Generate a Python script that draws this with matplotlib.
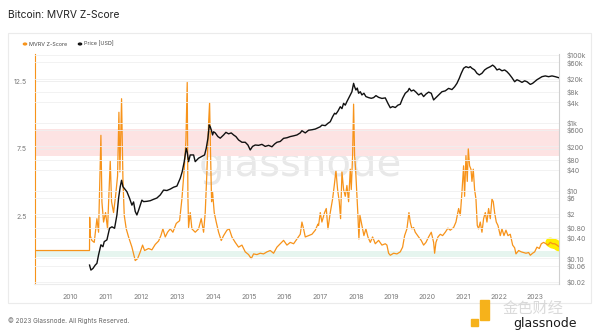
import matplotlib
matplotlib.use("Agg")
import matplotlib.pyplot as plt
from matplotlib.patches import Rectangle
from matplotlib.ticker import FixedLocator, NullLocator

plt.rcParams['font.family'] = ['Inter', 'Noto Sans CJK SC', 'DejaVu Sans']

# MVRV Z-Score (decimal year, value)
z_years = [2009.01, 2010.54, 2010.545, 2010.560, 2010.607, 2010.672, 2010.747, 2010.793, 2010.859,
           2010.887, 2010.933, 2010.989, 2011.045, 2011.120, 2011.157, 2011.213, 2011.269,
           2011.325, 2011.363, 2011.391, 2011.437, 2011.475, 2011.512, 2011.568, 2011.633,
           2011.727, 2011.820, 2011.885, 2011.960, 2012.025, 2012.081, 2012.193, 2012.286,
           2012.380, 2012.473, 2012.538, 2012.594, 2012.660, 2012.725, 2012.800, 2012.874,
           2012.968, 2013.061, 2013.126, 2013.191, 2013.238, 2013.275, 2013.294, 2013.313,
           2013.359, 2013.406, 2013.499, 2013.593, 2013.667, 2013.733, 2013.779, 2013.826,
           2013.873, 2013.901, 2013.929, 2013.957, 2013.985, 2014.031, 2014.087, 2014.153,
           2014.227, 2014.293, 2014.386, 2014.451, 2014.526, 2014.619, 2014.712, 2014.806,
           2014.899, 2014.992, 2015.067, 2015.132, 2015.226, 2015.319, 2015.412, 2015.506,
           2015.599, 2015.692, 2015.786, 2015.879, 2015.972, 2016.066, 2016.159, 2016.253,
           2016.346, 2016.439, 2016.486, 2016.532, 2016.579, 2016.672, 2016.766, 2016.859,
           2016.934, 2016.952, 2016.999, 2017.045, 2017.120, 2017.167, 2017.214, 2017.279,
           2017.344, 2017.391, 2017.438, 2017.484, 2017.531, 2017.568, 2017.606, 2017.652,
           2017.699, 2017.745, 2017.792, 2017.839, 2017.867, 2017.904, 2017.932, 2017.960,
           2017.988, 2018.026, 2018.053, 2018.081, 2018.109, 2018.165, 2018.221, 2018.277,
           2018.333, 2018.399, 2018.464, 2018.539, 2018.632, 2018.725, 2018.819, 2018.865,
           2018.912, 2018.959, 2019.052, 2019.145, 2019.238, 2019.304, 2019.360, 2019.425,
           2019.481, 2019.518, 2019.565, 2019.612, 2019.658, 2019.752, 2019.826, 2019.892,
           2019.957, 2020.032, 2020.106, 2020.172, 2020.200, 2020.237, 2020.293, 2020.358,
           2020.424, 2020.498, 2020.573, 2020.638, 2020.732, 2020.797, 2020.872, 2020.918,
           2020.965, 2021.011, 2021.039, 2021.077, 2021.114, 2021.142, 2021.179, 2021.217,
           2021.245, 2021.282, 2021.319, 2021.357, 2021.394, 2021.431, 2021.478, 2021.525,
           2021.571, 2021.618, 2021.665, 2021.711, 2021.758, 2021.805, 2021.842, 2021.879,
           2021.926, 2021.973, 2022.038, 2022.085, 2022.141, 2022.197, 2022.253, 2022.318,
           2022.384, 2022.440, 2022.477, 2022.552, 2022.626, 2022.691, 2022.757, 2022.832,
           2022.878, 2022.943, 2023.000, 2023.064, 2023.130, 2023.186, 2023.251, 2023.317,
           2023.373, 2023.438, 2023.504, 2023.560, 2023.625, 2023.672]
z_values = [0.0, 0.0, 2.45, 1.1, 0.74, 0.6, 2.35, 1.35, 8.5,
            3.6, 2.1, 2.8, 1.6, 6.6, 3.6, 2.8, 4.0,
            5.5, 10.2, 5.8, 11.2, 5.3, 2.6, 1.6, 1.0,
            0.25, -0.74, -0.6, -0.1, 0.4, 0.0, 0.15, 0.05,
            0.45, 0.7, 1.1, 1.6, 1.0, 1.35, 1.6, 1.35,
            2.0, 2.2, 3.8, 6.0, 8.1, 12.4, 4.0, 1.7,
            2.8, 1.6, 1.35, 1.6, 2.35, 1.35, 2.8, 5.8,
            9.4, 10.9, 7.0, 3.6, 4.3, 2.8, 2.1, 1.35,
            0.74, 1.1, 1.5, 1.6, 1.0, 0.6, 0.25, 0.4,
            -0.1, -0.3, -0.6, -0.25, -0.3, -0.2, -0.25, -0.1,
            0.0, -0.2, 0.25, 0.5, 0.75, 0.4, 0.6, 0.5,
            0.85, 1.2, 2.1, 1.6, 1.0, 1.1, 1.2, 1.5,
            1.95, 1.85, 2.8, 2.1, 2.8, 3.1, 1.6, 2.8,
            3.8, 4.8, 5.9, 4.5, 3.6, 2.35, 5.8, 4.5,
            4.0, 4.8, 3.6, 6.0, 4.5, 7.0, 10.8, 7.0,
            6.0, 4.0, 2.6, 0.85, 2.6, 1.85, 1.1, 1.6,
            1.0, 0.6, 1.0, 0.5, 0.75, 0.4, 0.5, 0.4,
            -0.2, -0.35, -0.2, -0.25, -0.1, 0.25, 1.1, 1.6,
            2.8, 2.1, 1.6, 1.7, 1.35, 1.0, 0.74, 0.4,
            0.6, 1.0, 1.35, 0.6, -0.2, 0.6, 1.0, 1.2,
            1.1, 1.35, 1.65, 1.5, 1.7, 2.1, 3.1, 2.6,
            4.3, 6.25, 4.0, 7.0, 5.1, 7.5, 6.25, 6.0,
            5.1, 6.0, 4.5, 3.8, 1.85, 1.6, 2.1, 1.35,
            2.35, 2.8, 2.1, 3.1, 2.35, 3.8, 3.6, 2.8,
            2.1, 1.85, 1.1, 1.6, 1.1, 1.5, 1.1, 1.2,
            0.4, 0.2, -0.25, 0.0, -0.1, -0.15, -0.2, -0.15,
            -0.35, -0.2, -0.1, 0.25, 0.15, 0.5, 0.6, 0.5,
            0.4, 0.6, 0.5, 0.5, 0.4, 0.3]

# BTC price in USD (decimal year, value)
price_years = [2010.541, 2010.579, 2010.635, 2010.700, 2010.747, 2010.793, 2010.859, 2010.915,
               2010.952, 2011.027, 2011.101, 2011.167, 2011.241, 2011.307, 2011.353, 2011.400,
               2011.437, 2011.475, 2011.512, 2011.587, 2011.661, 2011.727, 2011.773, 2011.820,
               2011.866, 2011.913, 2011.960, 2012.006, 2012.053, 2012.146, 2012.240, 2012.333,
               2012.426, 2012.520, 2012.613, 2012.706, 2012.800, 2012.893, 2012.986, 2013.080,
               2013.135, 2013.191, 2013.247, 2013.275, 2013.313, 2013.359, 2013.453, 2013.499,
               2013.593, 2013.761, 2013.807, 2013.854, 2013.891, 2013.919, 2013.947, 2013.985,
               2014.013, 2014.059, 2014.134, 2014.199, 2014.246, 2014.293, 2014.358, 2014.433,
               2014.507, 2014.573, 2014.638, 2014.712, 2014.806, 2014.899, 2014.974, 2015.039,
               2015.104, 2015.179, 2015.272, 2015.366, 2015.459, 2015.552, 2015.646, 2015.720,
               2015.786, 2015.879, 2015.972, 2016.066, 2016.159, 2016.253, 2016.346, 2016.439,
               2016.486, 2016.579, 2016.672, 2016.766, 2016.859, 2016.999, 2017.045, 2017.139,
               2017.214, 2017.279, 2017.344, 2017.400, 2017.438, 2017.494, 2017.559, 2017.606,
               2017.652, 2017.699, 2017.745, 2017.792, 2017.839, 2017.885, 2017.932, 2017.960,
               2017.998, 2018.035, 2018.072, 2018.119, 2018.165, 2018.221, 2018.277, 2018.352,
               2018.427, 2018.492, 2018.558, 2018.632, 2018.725, 2018.819, 2018.894, 2018.959,
               2019.024, 2019.099, 2019.173, 2019.238, 2019.304, 2019.378, 2019.453, 2019.490,
               2019.546, 2019.612, 2019.677, 2019.752, 2019.826, 2019.892, 2019.957, 2020.032,
               2020.106, 2020.172, 2020.312, 2020.405, 2020.498, 2020.591, 2020.685, 2020.760,
               2020.825, 2020.890, 2020.946, 2021.011, 2021.077, 2021.151, 2021.198, 2021.245,
               2021.319, 2021.385, 2021.450, 2021.525, 2021.599, 2021.665, 2021.758, 2021.824,
               2021.879, 2021.945, 2022.010, 2022.085, 2022.160, 2022.225, 2022.290, 2022.365,
               2022.440, 2022.505, 2022.570, 2022.645, 2022.720, 2022.785, 2022.878, 2022.943,
               2023.000, 2023.064, 2023.130, 2023.205, 2023.298, 2023.391, 2023.485, 2023.578,
               2023.672]
price_values = [0.063, 0.045, 0.05, 0.063, 0.071, 0.126, 0.25, 0.22,
                0.31, 0.35, 0.77, 0.85, 0.77, 1.9, 5.9, 13,
                20, 13, 11.6, 9.2, 5.9, 3.7, 4.6, 2.4,
                1.9, 2.6, 3.7, 5.2, 4.7, 4.8, 5.0, 5.5,
                6.0, 7.4, 10.3, 10, 11, 12.5, 13.5, 23,
                36, 71, 176, 136, 71, 112, 112, 71,
                90, 112, 176, 346, 855, 760, 620, 435,
                540, 500, 390, 350, 390, 435, 520, 470,
                500, 435, 390, 310, 265, 265, 220, 157,
                200, 220, 215, 230, 200, 215, 195, 235,
                265, 280, 346, 360, 390, 410, 435, 500,
                580, 500, 600, 620, 650, 760, 850, 820,
                960, 1070, 1500, 1900, 1800, 2200, 2960, 2600,
                3730, 3300, 4200, 5250, 6600, 8200, 14500, 11500,
                9200, 10500, 7400, 8200, 6600, 7400, 5900, 5500,
                5250, 5500, 6300, 5600, 5200, 5400, 3700, 2760,
                3000, 2800, 3300, 3500, 5250, 7400, 8600, 10300,
                8600, 9200, 8000, 6600, 7400, 5900, 7000, 8000,
                7400, 4700, 6600, 8200, 8700, 10300, 9500, 11500,
                14500, 20400, 28700, 40300, 45000, 42000, 45000, 40300,
                36000, 28700, 25700, 28700, 36000, 40300, 45000, 50000,
                45000, 36000, 38500, 34000, 36000, 32000, 27000, 21300,
                16200, 18500, 17200, 15500, 17200, 16200, 13500, 14500,
                16200, 18500, 20400, 22800, 24000, 22800, 24000, 22800,
                21300]

year_ticks = list(range(2010, 2024))
z_ticks = [-2.5, 2.5, 7.5, 12.5]
price_ticks = [0.02, 0.06, 0.10, 0.40, 0.80, 2, 6, 10, 40, 80, 200, 600,
               1000, 4000, 8000, 20000, 60000, 100000]
price_tick_labels = ['$0.02', '$0.06', '$0.10', '$0.40', '$0.80', '$2', '$6', '$10',
                     '$40', '$80', '$200', '$600', '$1k', '$4k', '$8k', '$20k',
                     '$60k', '$100k']

ORANGE = '#f7931a'
TICK_GREY = '#7a7a7a'

fig = plt.figure(figsize=(6.0, 3.31), dpi=100)
W, H = 600.0, 331.0

# outer panel
panel = Rectangle((8 / W, 1 - 303 / H), (591 - 8) / W, (303 - 33) / H,
                  transform=fig.transFigure, facecolor='white',
                  edgecolor='#ebebeb', linewidth=0.8, zorder=0)
fig.patches.append(panel)

ax = fig.add_axes([34.5 / W, 1 - 284 / H, (559.3 - 34.5) / W, (284 - 54) / H])
ax.set_zorder(1)
ax2 = ax.twinx()
ax2.set_zorder(2)
ax.patch.set_visible(False)
ax2.patch.set_visible(False)

ax.set_xlim(2009.0, 2023.69)
ax.set_ylim(-2.47, 14.5)
ax2.set_yscale('log')
ax2.set_ylim(0.01746, 106400)

# reference bands
ax.axhspan(7.0, 9.0, color='#fde3e3', zorder=0, lw=0)
ax.axhspan(-0.5, 0.0, color='#e6f5ef', zorder=0, lw=0)

# horizontal grid from price ticks and score ticks
for p in price_ticks:
    ax2.axhline(p, color='#f0f0f0', lw=0.6, zorder=0)
for zt in z_ticks:
    ax.axhline(zt, color='#ececec', lw=0.6, zorder=0)

# background wordmark
fig.text(300 / W, 1 - 165 / H, 'glassnode', fontsize=29, color='#e8e8e8',
         ha='center', va='center', family='DejaVu Sans', zorder=0.5)

# series
hl = [i for i, y in enumerate(z_years) if y >= 2023.43]
ax.plot([z_years[i] for i in hl], [z_values[i] for i in hl], color='#ffee00',
        lw=7, solid_capstyle='round', zorder=2)
ax.plot(z_years, z_values, color=ORANGE, lw=0.9, zorder=3)
ax2.plot(price_years, price_values, color='#111111', lw=1.0, zorder=3)

# axes styling
ax.spines['top'].set_visible(False)
ax2.spines['top'].set_visible(False)
ax.spines['left'].set_color(ORANGE)
ax.spines['left'].set_linewidth(0.8)
ax2.spines['left'].set_visible(False)
ax.spines['right'].set_visible(False)
ax2.spines['right'].set_color('#d0d0d0')
ax2.spines['right'].set_linewidth(0.8)
ax.spines['bottom'].set_color('#ececec')
ax.spines['bottom'].set_linewidth(0.8)
ax2.spines['bottom'].set_visible(False)

ax.xaxis.set_major_locator(FixedLocator(year_ticks))
ax.set_xticklabels([str(y) for y in year_ticks])
ax.yaxis.set_major_locator(FixedLocator(z_ticks))
ax.set_yticklabels([str(t) for t in z_ticks])
ax.tick_params(axis='x', length=0, pad=7.5, labelsize=5, labelcolor=TICK_GREY)
ax.tick_params(axis='y', length=0, pad=5.5, labelsize=5, labelcolor=TICK_GREY)

ax2.yaxis.set_major_locator(FixedLocator(price_ticks))
ax2.yaxis.set_minor_locator(NullLocator())
ax2.set_yticklabels(price_tick_labels)
ax2.tick_params(axis='y', length=0, pad=5.3, labelsize=5, labelcolor=TICK_GREY)

# title and legend
fig.text(8 / W, 1 - 15 / H, 'Bitcoin: MVRV Z-Score', fontsize=7.4, color='#222222',
         ha='left', va='center')
fig.patches.append(plt.Circle((25 / W, 1 - 44 / H), 1.6 / W, transform=fig.transFigure,
                              color=ORANGE))
fig.text(29 / W, 1 - 44 / H, 'MVRV Z-Score', fontsize=3.9, color='#444444',
         ha='left', va='center')
fig.patches.append(plt.Circle((80 / W, 1 - 44 / H), 1.6 / W, transform=fig.transFigure,
                              color='#111111'))
fig.text(84 / W, 1 - 44 / H, 'Price [USD]', fontsize=3.9, color='#444444',
         ha='left', va='center')

fig.text(8 / W, 1 - 321 / H, '\u00a9 2023 Glassnode. All Rights Reserved.', fontsize=4.6,
         color='#666666', ha='left', va='center')

# corner badge
fig.patches.append(Rectangle((480 / W, 1 - 320 / H), 9 / W, 20 / H,
                             transform=fig.transFigure, color='#f6b21b', zorder=5))
fig.patches.append(Rectangle((471 / W, 1 - 326 / H), 7 / W, 7 / H,
                             transform=fig.transFigure, color='#f6b21b', zorder=5))
fig.text(533 / W, 1 - 308 / H, '金色财经', fontsize=11, color='#d6d6d6',
         ha='center', va='center', alpha=0.9, zorder=6)
fig.text(545 / W, 1 - 324 / H, 'glassnode', fontsize=9, color='#1a1a1a',
         ha='center', va='center', family='DejaVu Sans', zorder=7)

fig.savefig('out.png', dpi=100, facecolor='white')
